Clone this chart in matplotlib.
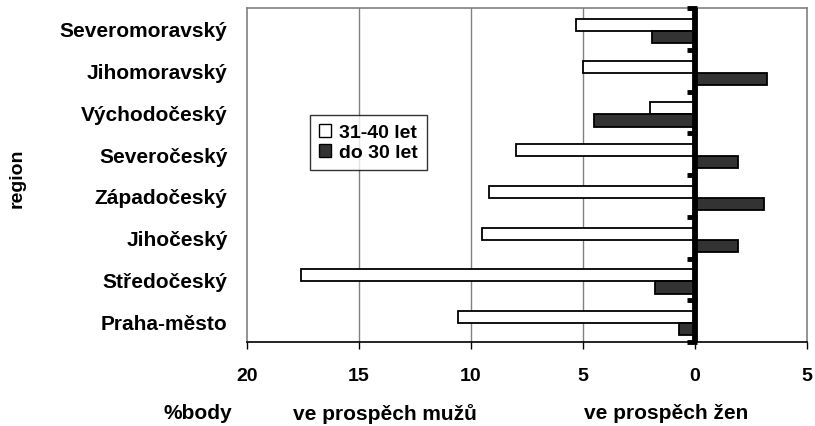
import matplotlib
matplotlib.use("Agg")
import matplotlib.pyplot as plt
import numpy as np
from matplotlib.patches import Patch

plt.rcParams['font.family'] = ['Liberation Sans', 'DejaVu Sans']
plt.rcParams['font.weight'] = 'bold'

# regions listed bottom -> top
regions = ['Praha-město', 'Středočeský', 'Jihočeský', 'Západočeský',
           'Severočeský', 'Východočeský', 'Jihomoravský', 'Severomoravský']
# positive = ve prospěch mužů (drawn to the left), negative = ve prospěch žen
age_31_40 = [10.6, 17.6, 9.5, 9.2, 8.0, 2.0, 5.0, 5.3]
age_do_30 = [0.7, 1.8, -1.9, -3.1, -1.9, 4.5, -3.2, 1.9]
series_names = ['31-40 let', 'do 30 let']
xticks = [20, 15, 10, 5, 0, -5]

fig = plt.figure(figsize=(8.15, 4.27), dpi=100)
ax = fig.add_axes([247 / 815, 1 - 343 / 427, 560 / 815, 334 / 427])

y = np.arange(len(regions))
h = 0.29
shift = -0.05
ax.barh(y + shift + h / 2, age_31_40, height=h, color='white',
        edgecolor='black', linewidth=1.3, zorder=3)
ax.barh(y + shift - h / 2, age_do_30, height=h, color='#333333',
        edgecolor='black', linewidth=1.3, zorder=3)

ax.set_xlim(20, -5)
ax.set_ylim(-0.5, len(regions) - 0.5)

# vertical gridlines
for gx in [15, 10, 5]:
    ax.axvline(gx, color='#808080', linewidth=1, zorder=1)

# thick category axis at zero with boundary ticks
ax.axvline(0, color='black', linewidth=4.2, zorder=4)
bounds = np.arange(len(regions) + 1) - 0.5
ax.plot(np.full(len(bounds), 0.15), bounds, linestyle='none', marker='_',
        markersize=7, markeredgewidth=3.5, color='black', zorder=4,
        clip_on=False)

ax.set_xticks(xticks)
ax.set_xticklabels([str(abs(t)) for t in xticks], fontsize=14, fontweight='bold')
ax.tick_params(axis='x', direction='out', length=5, width=1, pad=13, color='black')
ax.set_yticks(y)
ax.set_yticklabels(regions, fontsize=15, fontweight='bold')
ax.tick_params(axis='y', length=0, pad=14)

for side in ['top', 'right', 'left']:
    ax.spines[side].set_color('#808080')
    ax.spines[side].set_linewidth(1.2)
ax.spines['bottom'].set_color('black')
ax.spines['bottom'].set_linewidth(1.2)

handles = [Patch(facecolor='white', edgecolor='black', linewidth=1),
           Patch(facecolor='#333333', edgecolor='black', linewidth=1)]
leg = fig.legend(handles, series_names, loc='upper left',
                 bbox_to_anchor=(310 / 815, 1 - 116 / 427),
                 prop={'size': 14, 'weight': 'bold'}, frameon=True,
                 fancybox=False, shadow=False, handlelength=0.65,
                 handleheight=0.65, handletextpad=0.4, borderpad=0.45,
                 labelspacing=0.15, borderaxespad=0)
leg.get_frame().set_edgecolor('black')
leg.get_frame().set_linewidth(1)

fig.text(17.5 / 815, 1 - 178 / 427, 'region', rotation=90, ha='center',
         va='center', fontsize=14, fontweight='bold')
fig.text(198 / 815, 1 - 414 / 427, '%body', ha='center', va='center',
         fontsize=15, fontweight='bold')
fig.text(385 / 815, 1 - 414 / 427, 've prospěch mužů', ha='center',
         va='center', fontsize=15, fontweight='bold')
fig.text(666 / 815, 1 - 414 / 427, 've prospěch žen', ha='center',
         va='center', fontsize=15, fontweight='bold')

fig.savefig('out.png', dpi=100)
